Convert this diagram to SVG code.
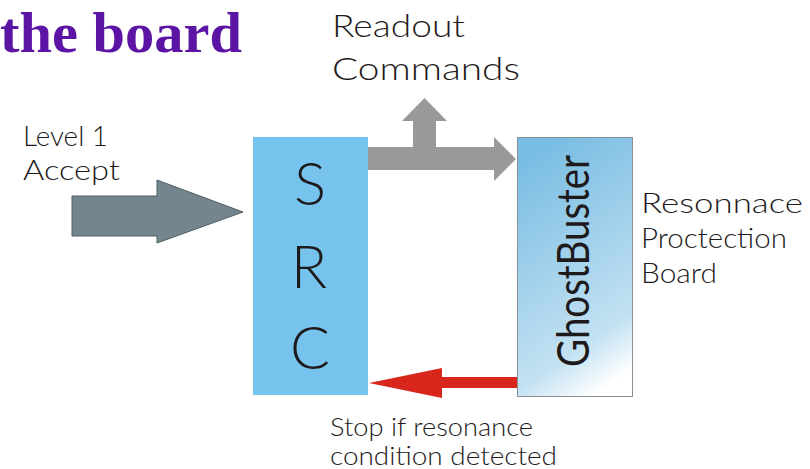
<svg xmlns="http://www.w3.org/2000/svg" width="810" height="469" viewBox="0 0 810 469">
  <style>
    .lbl { font-family: Lato, "Liberation Sans", Arial, sans-serif; font-weight: 300; fill: #1e1a1b; }
    .big { font-family: Lato, "Liberation Sans", Arial, sans-serif; font-weight: 300; fill: #1e1a1b; }
    .title { font-family: "Liberation Serif", "Times New Roman", serif; font-weight: bold; fill: #5b14a3; }
  </style>
  <defs>
    <linearGradient id="gbFill" x1="0.35" y1="0" x2="0.65" y2="1">
      <stop offset="0" stop-color="#79bde3"/>
      <stop offset="0.8" stop-color="#c3e1f2"/>
      <stop offset="1" stop-color="#ffffff"/>
    </linearGradient>
  </defs>
  <rect width="810" height="469" fill="#ffffff"/>

  <!-- heading -->
  <text class="title" x="0" y="52" font-size="58" textLength="242" lengthAdjust="spacingAndGlyphs">the board</text>

  <!-- connectors -->
  <g id="connectors">
    <!-- Level 1 accept into SRC -->
    <polygon points="72,196 157,196 157,180 243,212 157,243 157,236 72,236" fill="#74858e" stroke="#4f5f66" stroke-width="1"/>
    <!-- readout commands: SRC to GhostBuster, with branch upward -->
    <polygon points="368,147 413,147 413,121 402,121 424.5,98 447,121 436,121 436,147 494,147 494,137 516,159 494,181 494,170 368,170" fill="#999997"/>
    <!-- stop signal back to SRC -->
    <polygon points="517,377 442,377 442,368 369,383 442,398 442,388 517,388" fill="#d9261c"/>
  </g>

  <!-- SRC node -->
  <g id="src">
    <rect x="253" y="137" width="115" height="258" fill="#76c4ee"/>
    <text class="big" x="310" y="205" font-size="60" text-anchor="middle">S</text>
    <text class="big" x="309" y="288" font-size="60" text-anchor="middle">R</text>
    <text class="big" x="310" y="369" font-size="60" text-anchor="middle" textLength="40" lengthAdjust="spacingAndGlyphs">C</text>
  </g>

  <!-- GhostBuster node -->
  <g id="ghostbuster">
    <rect x="517.5" y="137.5" width="115" height="259" fill="url(#gbFill)" stroke="#8a8f94" stroke-width="1"/>
    <text class="big" transform="translate(589,367) rotate(-90)" font-size="44" textLength="212" lengthAdjust="spacingAndGlyphs" style="font-weight:400">GhostBuster</text>
  </g>

  <!-- labels -->
  <g id="labels">
    <text class="lbl" x="332" y="37" font-size="31" textLength="133" lengthAdjust="spacingAndGlyphs">Readout</text>
    <text class="lbl" x="332" y="80" font-size="31" textLength="188" lengthAdjust="spacingAndGlyphs">Commands</text>
    <text class="lbl" x="23" y="146" font-size="27" textLength="85" lengthAdjust="spacingAndGlyphs">Level 1</text>
    <text class="lbl" x="23" y="180" font-size="27" textLength="97" lengthAdjust="spacingAndGlyphs">Accept</text>
    <text class="lbl" x="641" y="213" font-size="27" textLength="162" lengthAdjust="spacingAndGlyphs">Resonnace</text>
    <text class="lbl" x="641" y="248" font-size="27" textLength="146" lengthAdjust="spacingAndGlyphs">Proctection</text>
    <text class="lbl" x="641" y="283" font-size="27" textLength="76" lengthAdjust="spacingAndGlyphs">Board</text>
    <text class="lbl" x="330" y="436" font-size="25" textLength="203" lengthAdjust="spacingAndGlyphs">Stop if resonance</text>
    <text class="lbl" x="330" y="465" font-size="25" textLength="227" lengthAdjust="spacingAndGlyphs">condition detected</text>
  </g>
</svg>
